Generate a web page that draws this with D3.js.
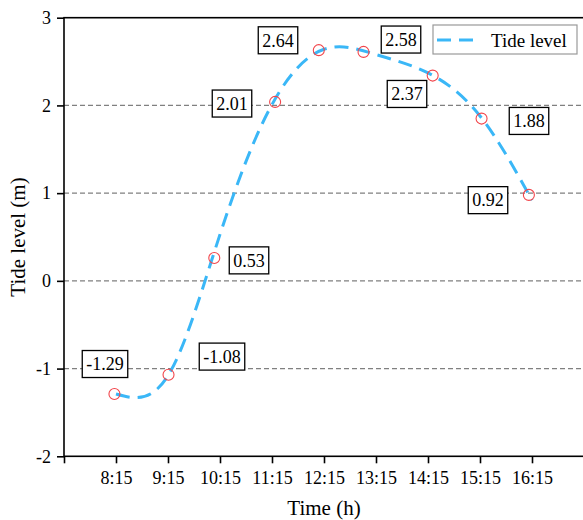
<!DOCTYPE html>
<html>
<head>
<meta charset="utf-8">
<script src="https://cdn.jsdelivr.net/npm/d3@7"></script>
<style>
  html, body { margin: 0; padding: 0; background: #fff; }
  svg { display: block; }
  text { font-family: "Liberation Serif", "Times New Roman", serif; fill: #000; }
</style>
</head>
<body>
<svg id="chart" width="583" height="520"></svg>
<script>
// Hourly times (decimal hours) and their tick labels
const tickTimes = [8.25, 9.25, 10.25, 11.25, 12.25, 13.25, 14.25, 15.25, 16.25];
const tickLabels = ["8:15", "9:15", "10:15", "11:15", "12:15", "13:15", "14:15", "15:15", "16:15"];

// Fitted tide level at each hourly time (m), also shown in the boxed labels
const fittedLevel = [-1.29, -1.08, 0.53, 2.01, 2.64, 2.58, 2.37, 1.88, 0.92];

// Measured observations: time (decimal hours) and tide level (m)
const obsTime  = [8.22, 9.26, 10.14, 11.31, 12.15, 13.01, 14.34, 15.28, 16.19];
const obsLevel = [-1.29, -1.07, 0.26, 2.04, 2.63, 2.61, 2.34, 1.85, 0.98];

// Y axis ticks and dashed reference lines
const yTicks = [-2, -1, 0, 1, 2, 3];
const gridLevels = [-1, 0, 1, 2];

// Box offsets from each fitted point, in px
const boxOffsetX = [-11, 54, 29, -40, -46, 25, -21, 49, -44];
const boxOffsetY = [-30, -19, 26, -1, -9, -15, 21, 5, 0];

const serif = "'Liberation Serif', 'Times New Roman', serif";
const svg = d3.select("#chart");
const plotLeft = 64, plotRight = 584, plotTop = 17.7, plotBottom = 456.3;

const x = d3.scaleLinear().domain([7.25, 17.25]).range([plotLeft, plotRight]);
const y = d3.scaleLinear().domain([-2, 3]).range([plotBottom, plotTop]);

// dashed grid lines
svg.append("g").selectAll("line").data(gridLevels).join("line")
  .attr("x1", plotLeft).attr("x2", plotRight)
  .attr("y1", d => y(d)).attr("y2", d => y(d))
  .attr("stroke", "#808080").attr("stroke-width", 1.2)
  .attr("stroke-dasharray", "5,3");

// frame
svg.append("rect")
  .attr("x", plotLeft).attr("y", plotTop)
  .attr("width", plotRight - plotLeft).attr("height", plotBottom - plotTop)
  .attr("fill", "none").attr("stroke", "#000").attr("stroke-width", 1.6);

// x axis
const xAxis = d3.axisBottom(x)
  .tickValues([7.25, ...tickTimes, 17.25])
  .tickFormat(d => { const i = tickTimes.indexOf(d); return i >= 0 ? tickLabels[i] : ""; })
  .tickSize(7).tickSizeOuter(0).tickPadding(8);
const gx = svg.append("g").attr("transform", `translate(0,${plotBottom})`).call(xAxis);
gx.attr("font-family", serif);
gx.select(".domain").remove();
gx.selectAll(".tick line").attr("stroke", "#000").attr("stroke-width", 1.6);
gx.selectAll(".tick text").attr("font-size", 18).style("font-family", serif);

// y axis (plain hyphen for negatives)
const yAxis = d3.axisLeft(y).tickValues(yTicks).tickFormat(d => String(d))
  .tickSize(7).tickSizeOuter(0).tickPadding(6);
const gy = svg.append("g").attr("transform", `translate(${plotLeft},0)`).call(yAxis);
gy.attr("font-family", serif);
gy.select(".domain").remove();
gy.selectAll(".tick line").attr("stroke", "#000").attr("stroke-width", 1.6);
gy.selectAll(".tick text").attr("font-size", 18).style("font-family", serif);

// axis titles
svg.append("text").attr("x", (plotLeft + plotRight) / 2).attr("y", 515)
  .attr("text-anchor", "middle").attr("font-size", 21).style("font-family", serif)
  .text("Time (h)");
svg.append("text")
  .attr("transform", `translate(25,${(plotTop + plotBottom) / 2}) rotate(-90)`)
  .attr("text-anchor", "middle").attr("font-size", 21).style("font-family", serif)
  .text("Tide level (m)");

// fitted curve
const fitted = tickTimes.map((t, i) => [t, fittedLevel[i]]);
const line = d3.line().x(d => x(d[0])).y(d => y(d[1])).curve(d3.curveNatural);
const lineColor = "#3AB7F7";
svg.append("path").datum(fitted)
  .attr("d", line)
  .attr("fill", "none").attr("stroke", lineColor)
  .attr("stroke-width", 3).attr("stroke-dasharray", "14,8");

// observation markers
svg.append("g").selectAll("circle").data(obsTime.map((t, i) => [t, obsLevel[i]])).join("circle")
  .attr("cx", d => x(d[0])).attr("cy", d => y(d[1])).attr("r", 5.5)
  .attr("fill", "none").attr("stroke", "#F2454B").attr("stroke-width", 1.1);

// value boxes
const boxes = svg.append("g").selectAll("g").data(fitted).join("g")
  .attr("transform", (d, i) => `translate(${x(d[0]) + boxOffsetX[i]},${y(d[1]) + boxOffsetY[i]})`);
boxes.append("text")
  .attr("text-anchor", "middle").attr("dy", "0.35em").attr("font-size", 18)
  .style("font-family", serif)
  .text(d => d[1].toFixed(2));
boxes.each(function () {
  const g = d3.select(this);
  const bb = g.select("text").node().getBBox();
  g.insert("rect", "text")
    .attr("x", bb.x - 4).attr("y", -13.5)
    .attr("width", bb.width + 8).attr("height", 27)
    .attr("fill", "#fff").attr("stroke", "#000").attr("stroke-width", 1.3);
});

// legend
const lg = svg.append("g").attr("transform", "translate(433,25)");
lg.append("rect").attr("width", 144).attr("height", 29)
  .attr("fill", "#fff").attr("stroke", "#999").attr("stroke-width", 1.2);
lg.append("line").attr("x1", 4).attr("x2", 45).attr("y1", 15).attr("y2", 15)
  .attr("stroke", lineColor).attr("stroke-width", 3).attr("stroke-dasharray", "14,8");
lg.append("text").attr("x", 58).attr("y", 15).attr("dy", "0.35em")
  .attr("font-size", 19).style("font-family", serif).text("Tide level");
</script>
</body>
</html>
